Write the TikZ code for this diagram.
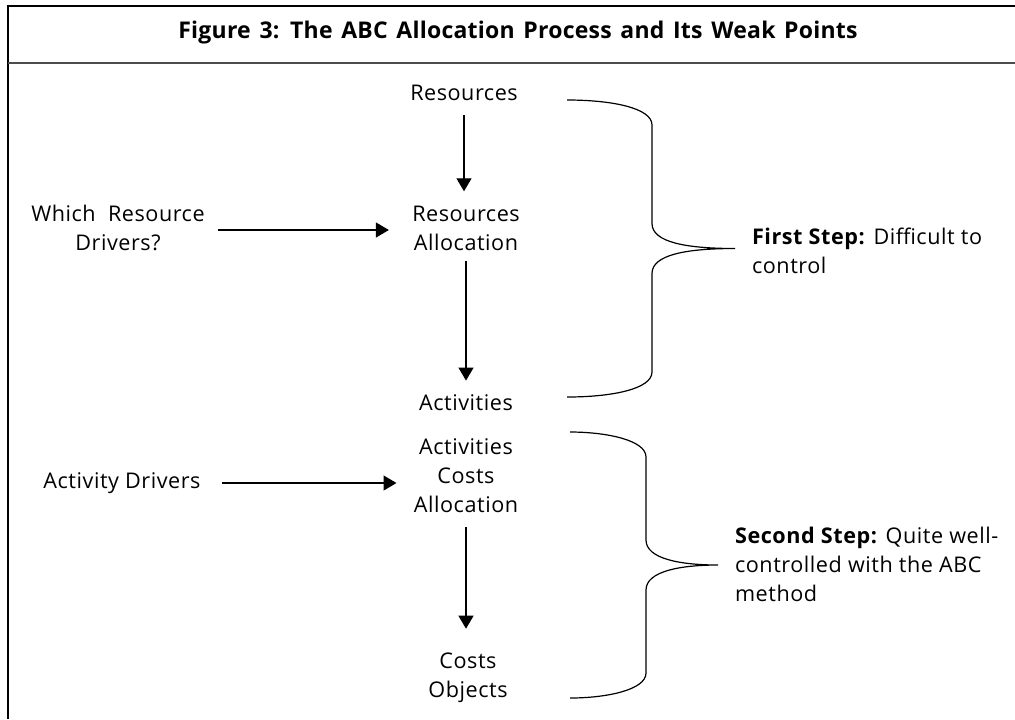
\documentclass[tikz,border=0pt]{standalone}
\usepackage{fontspec}
\setmainfont{Open Sans}[LetterSpace=2.5]
\newfontfamily\titlefont{Open Sans}[LetterSpace=1,WordSpace=1.4]
\usepackage{tikz}
\usetikzlibrary{arrows.meta}
\newcommand{\StepBrace}[5]{% left x, stem x, tip x, top y, bottom y
\draw[line width=0.6pt]
(#1,#4) .. controls (#2-40,#4) and (#2,#4+8) .. (#2,#4+25)
-- (#2,{(#4+#5)/2-25}) .. controls (#2,{(#4+#5)/2-6}) and (#2+35,{(#4+#5)/2}) .. (#3,{(#4+#5)/2})
.. controls (#2+35,{(#4+#5)/2}) and (#2,{(#4+#5)/2+6}) .. (#2,{(#4+#5)/2+25})
-- (#2,#5-25) .. controls (#2,#5-8) and (#2-40,#5) .. (#1,#5);
}

\begin{document}
\begin{tikzpicture}[x=0.5pt,y=-0.5pt,
  font=\fontsize{10.8}{14.5}\selectfont,
  stage/.style={align=center,inner sep=0pt},
  arr/.style={-{Triangle[length=6.5pt,width=7.5pt]},line width=0.65pt}]
\useasboundingbox (0,0) rectangle (1015,719);
% frame and title row
\draw[line width=0.8pt] (1015,6) -- (8,6) -- (8,719);
\draw[line width=1pt,black!70] (8,63) -- (1015,63);
\node[font=\titlefont\fontsize{11.5}{13}\selectfont\bfseries] (title) at (518,33)
  {Figure 3: The ABC Allocation Process and Its Weak Points};

% process column
\node[stage] (res) at (464,93) {Resources};
\node[stage] (resalloc) at (466,228) {Resources\\Allocation};
\node[stage] (act) at (466,403) {Activities};
\node[stage] (actalloc) at (466,476) {Activities\\Costs\\Allocation};
\node[stage] (costobj) at (468,678) {Costs\\Objects};

% drivers
\node[stage] (rdrivers) at (118,228) {Which\ \ Resource\\Drivers?};
\node[stage] (adrivers) at (122,483) {Activity Drivers};

\draw[arr,shorten <=7pt,shorten >=7pt] (res) -- (res |- resalloc.north);
\draw[arr,shorten <=5pt,shorten >=7pt] (resalloc.south) -- (act.north);
\draw[arr,shorten <=7pt,shorten >=12pt] (actalloc.south) -- (actalloc.south |- costobj.north);
\draw[arr,shorten <=6.5pt,shorten >=11.5pt] (rdrivers.east |- 0,230) -- (resalloc.west |- 0,230);
\draw[arr,shorten <=10.5pt,shorten >=8.5pt] (adrivers.east) -- (adrivers -| actalloc.west);

% braces and step notes
\StepBrace{567}{652}{735}{100}{397}
\StepBrace{570}{646}{718}{432}{698}
\node[anchor=west,align=left] (step1) at (745,251)
  {\textbf{First Step:} Difficult to\\control};
\node[anchor=west,align=left] (step2) at (728,564)
  {\textbf{Second Step:} Quite well-\\controlled with the ABC\\method};
\end{tikzpicture}
\end{document}
